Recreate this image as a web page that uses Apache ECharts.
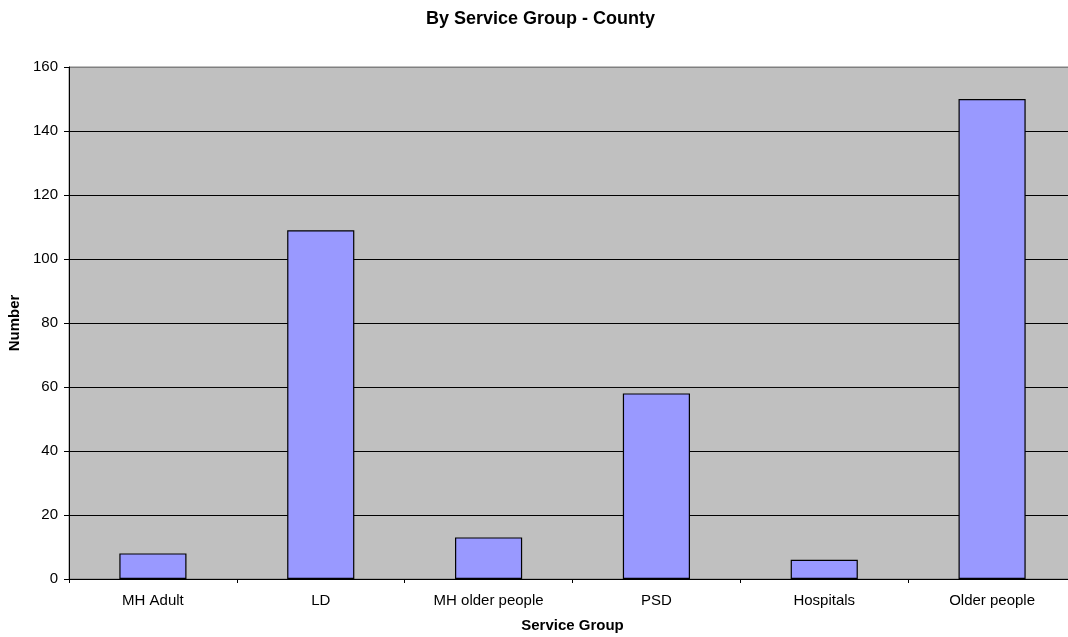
<!DOCTYPE html>
<html>
<head>
<meta charset="utf-8">
<title>By Service Group - County</title>
<script src="https://cdn.jsdelivr.net/npm/echarts@6/dist/echarts.min.js"></script>
<style>
  html, body { margin: 0; padding: 0; background: #ffffff; }
  #chart { width: 1068px; height: 637px; }
</style>
</head>
<body>
<div id="chart"></div>
<script>
// Service groups along the horizontal axis
const categories = ['MH Adult', 'LD', 'MH older people', 'PSD', 'Hospitals', 'Older people'];
// Count for each service group
const counts = [8, 109, 13, 58, 6, 150];
// Vertical scale
const yMin = 0;
const yMax = 160;
const yStep = 20;

const font = '"Liberation Sans", Arial, sans-serif';

// Gridlines are black; the top one sits on the grey plot border
const gridLineColors = [];
for (let v = yMin; v <= yMax; v += yStep) {
  gridLineColors.push(v === yMax ? '#808080' : '#000000');
}

const chart = echarts.init(document.getElementById('chart'), null, { renderer: 'canvas' });
chart.setOption({
  animation: false,
  backgroundColor: '#ffffff',
  title: {
    text: 'By Service Group - County',
    left: 421,
    top: 5,
    textStyle: { fontFamily: font, fontSize: 18, fontWeight: 'bold', color: '#000' }
  },
  grid: {
    show: true,
    left: 69,
    top: 67,
    bottom: 58,
    width: 1007,
    outerBoundsMode: 'none',
    containLabel: false,
    backgroundColor: '#c0c0c0',
    borderColor: '#808080',
    borderWidth: 1
  },
  xAxis: {
    type: 'category',
    data: categories,
    name: 'Service Group',
    nameLocation: 'middle',
    nameGap: 39,
    nameTextStyle: { fontFamily: font, fontSize: 15, fontWeight: 'bold', color: '#000' },
    axisLine: { lineStyle: { color: '#000', width: 1 } },
    axisTick: { show: true, length: 4, lineStyle: { color: '#000' } },
    axisLabel: { fontFamily: font, fontSize: 15, color: '#000', margin: 14 },
    splitLine: { show: false }
  },
  yAxis: {
    type: 'value',
    min: yMin,
    max: yMax,
    interval: yStep,
    name: 'Number',
    nameLocation: 'middle',
    nameGap: 44,
    nameTextStyle: { fontFamily: font, fontSize: 15, fontWeight: 'bold', color: '#000' },
    axisLine: { show: true, lineStyle: { color: '#000', width: 1 } },
    axisTick: { show: true, length: 5, lineStyle: { color: '#000' } },
    axisLabel: { fontFamily: font, fontSize: 15, color: '#000', margin: 11 },
    splitLine: { show: true, lineStyle: { color: gridLineColors, width: 1 } }
  },
  series: [{
    type: 'bar',
    data: counts,
    barCategoryGap: '60%',
    itemStyle: { color: '#9999ff', borderColor: '#000', borderWidth: 1.2 }
  }]
});
</script>
</body>
</html>
